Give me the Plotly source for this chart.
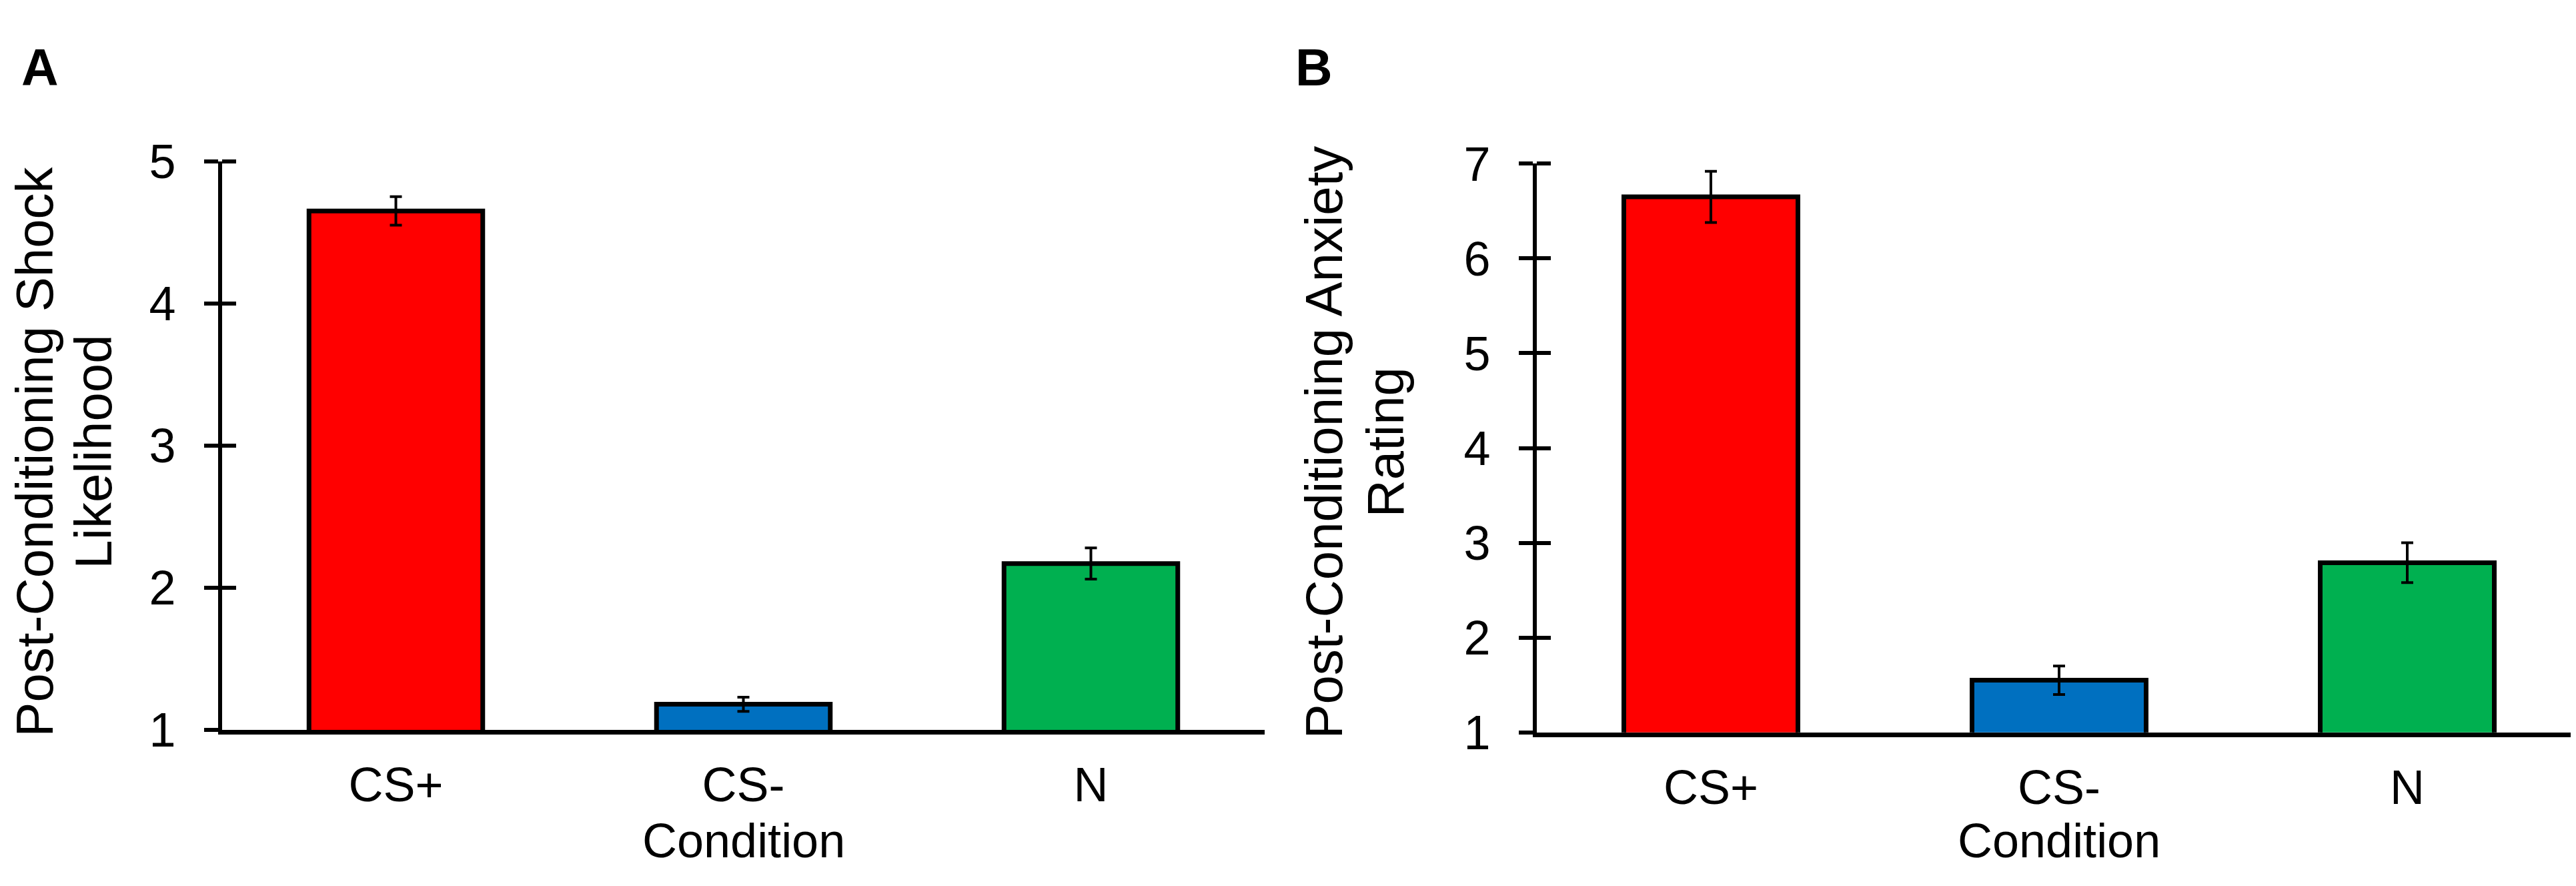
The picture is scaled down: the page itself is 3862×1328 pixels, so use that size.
import plotly.graph_objects as go

W, H = 3862, 1328

conditions = ["CS+", "CS-", "N"]
colors = ["#FF0000", "#0070C0", "#00B050"]

# panel A - shock likelihood
shock_mean = [4.65, 1.18, 2.17]
shock_err = [0.10, 0.05, 0.11]

# panel B - anxiety rating
anx_mean = [6.65, 1.55, 2.79]
anx_err = [0.27, 0.15, 0.21]

FONT = "Arial, Liberation Sans, sans-serif"


def bar_trace(vals, errs, xa, ya):
    return go.Bar(
        x=conditions, y=vals, width=0.5,
        marker=dict(color=colors, line=dict(color="black", width=7)),
        error_y=dict(type="data", array=errs, color="black", thickness=4, width=9),
        xaxis=xa, yaxis=ya, showlegend=False, hoverinfo="skip",
    )


def dummy(xa, ya):
    # invisible trace so the tick-only subplot gets drawn
    return go.Scatter(x=[conditions[0]], y=[1], mode="markers", marker=dict(opacity=0),
                      xaxis=xa, yaxis=ya, showlegend=False, hoverinfo="skip")


fig = go.Figure()
fig.add_trace(bar_trace(shock_mean, shock_err, "x", "y"))
fig.add_trace(bar_trace(anx_mean, anx_err, "x2", "y2"))
fig.add_trace(dummy("x3", "y3"))
fig.add_trace(dummy("x4", "y4"))

xa_common = dict(
    type="category", range=[-0.5, 2.5], showline=True, linewidth=7, linecolor="black",
    ticks="", showgrid=False, zeroline=False, ticklabelstandoff=14,
    tickfont=dict(family=FONT, size=72, color="black"),
)
ya_common = dict(
    dtick=1, ticks="outside", ticklen=21, tickwidth=6, tickcolor="black",
    showline=True, linewidth=6, linecolor="black", showgrid=False, zeroline=False,
    ticklabelstandoff=28,
    tickfont=dict(family=FONT, size=72, color="black"),
)
# second, tick-only subplot on top of each panel: gives the inner half of the crossing ticks
ya_inner = dict(dtick=1, ticks="inside", ticklen=21, tickwidth=6, tickcolor="black",
                showline=False, showgrid=False, zeroline=False, showticklabels=False)
xa_hidden = dict(type="category", range=[-0.5, 2.5], visible=False)

domA = [325 / W, 1888 / W]
domB = [2296 / W, 1.0]
topA, botA = 206, 1113
topB, botB = 210, 1117
ydomA = [1 - botA / H, 1 - topA / H]
ydomB = [1 - botB / H, 1 - topB / H]
rangeA = [1, 5]
rangeB = [1, 7]

# the inner tick axis is stretched a few px past the top so its end tick is not clipped
PAD = 4
padA = PAD * (rangeA[1] - rangeA[0]) / (botA - topA)
padB = PAD * (rangeB[1] - rangeB[0]) / (botB - topB)


def text_ann(text, x, y, xanchor, yanchor, size, angle=0):
    return dict(text=text, x=x, y=y, xref="paper", yref="paper", textangle=angle,
                xanchor=xanchor, yanchor=yanchor, showarrow=False,
                font=dict(family=FONT, size=size, color="black"))


fig.update_layout(
    width=W, height=H, autosize=False,
    margin=dict(l=0, r=0, t=0, b=0),
    paper_bgcolor="white", plot_bgcolor="rgba(0,0,0,0)",
    xaxis=dict(domain=domA, anchor="y", **xa_common),
    xaxis2=dict(domain=domB, anchor="y2", **xa_common),
    yaxis=dict(domain=ydomA, anchor="x", range=rangeA, **ya_common),
    yaxis2=dict(domain=ydomB, anchor="x2", range=rangeB, **ya_common),
    xaxis3=dict(domain=domA, anchor="y3", **xa_hidden),
    yaxis3=dict(domain=[ydomA[0], 1 - (topA - PAD) / H], anchor="x3",
                range=[rangeA[0], rangeA[1] + padA], **ya_inner),
    xaxis4=dict(domain=domB, anchor="y4", **xa_hidden),
    yaxis4=dict(domain=[ydomB[0], 1 - (topB - PAD) / H], anchor="x4",
                range=[rangeB[0], rangeB[1] + padB], **ya_inner),
    annotations=[
        text_ann("<b>A</b>", 22 / W, 1 - 8 / H, "left", "top", 77),
        text_ann("<b>B</b>", 1932 / W, 1 - 8 / H, "left", "top", 77),
        # y titles, one annotation per line
        text_ann("Post-Conditioning Shock", 44 / W, 1 - 670 / H, "center", "middle", 78, -90),
        text_ann("Likelihood", 132 / W, 1 - 670 / H, "center", "middle", 78, -90),
        text_ann("Post-Conditioning Anxiety", 1977 / W, 1 - 655 / H, "center", "middle", 78, -90),
        text_ann("Rating", 2069 / W, 1 - 655 / H, "center", "middle", 78, -90),
        # x titles
        text_ann("Condition", sum(domA) / 2, 1 - 1290 / H, "center", "middle", 72),
        text_ann("Condition", sum(domB) / 2, 1 - 1290 / H, "center", "middle", 72),
    ],
)

fig.write_html("out.html")
